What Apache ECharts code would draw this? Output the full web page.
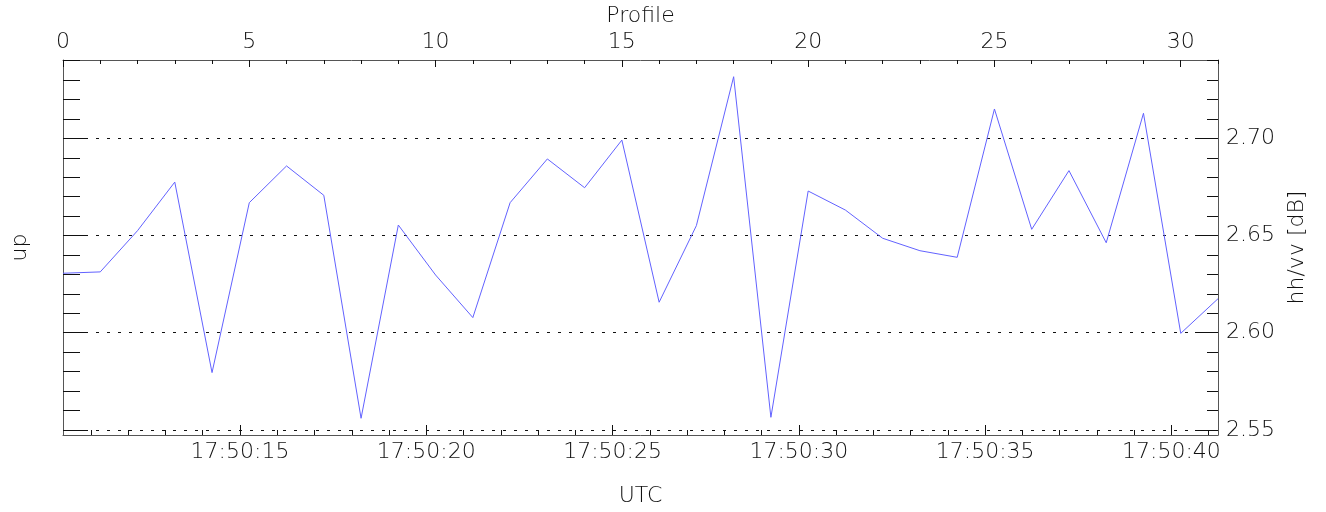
<!DOCTYPE html>
<html>
<head>
<meta charset="utf-8">
<script src="https://cdn.jsdelivr.net/npm/echarts@6/dist/echarts.min.js"></script>
<style>
html,body{margin:0;padding:0;background:#fff;}
#chart{width:1326px;height:512px;}
</style>
</head>
<body>
<div id="chart"></div>
<script>
// ---- data ----
const profiles = [0,1,2,3,4,5,6,7,8,9,10,11,12,13,14,15,16,17,18,19,20,21,22,23,24,25,26,27,28,29,30,31];
const hhvv = [2.6306,2.6313,2.6525,2.6775,2.5795,2.6669,2.6858,2.6707,2.5560,2.6554,
              2.6297,2.6078,2.6669,2.6894,2.6746,2.6991,2.6157,2.6551,2.7317,2.5565,
              2.6729,2.6631,2.6486,2.6422,2.6388,2.7151,2.6532,2.6834,2.6463,2.7129,
              2.5997,2.6175];
// tick labels / tick positions
const profileTicks = [0,5,10,15,20,25,30];
const profileMinorTicks = [1,2,3,4,6,7,8,9,11,12,13,14,16,17,18,19,21,22,23,24,26,27,28,29,31];
const utcTickSeconds = [15,20,25,30,35,40];           // seconds after 17:50:00
const utcTickLabels = ['17:50:15','17:50:20','17:50:25','17:50:30','17:50:35','17:50:40'];
const utcMinorSeconds = [11,12,13,14,16,17,18,19,21,22,23,24,26,27,28,29,31,32,33,34,36,37,38,39,41];
const utcStartSec = 10.25;   // time of profile 0 (17:50:10.25)
const dbTicks = [2.55,2.60,2.65,2.70];
const dbMinorTicks = [2.56,2.57,2.58,2.59,2.61,2.62,2.63,2.64,2.66,2.67,2.68,2.69,2.71,2.72,2.73,2.74];
const dbMin = 2.5474, dbMax = 2.7403;
const profileMin = 0, profileMax = 31;

// ---- chart ----
const FONT = 'DejaVu Sans';
const txt = {color:'#111', fontFamily: FONT, fontSize: 22, fontWeight: 200};
const lineCol = '#555';
const tickCol = '#111';

const chart = echarts.init(document.getElementById('chart'), null, {renderer:'canvas'});
const utcMax = utcStartSec + (profileMax - profileMin);

function baseX(extra){ return Object.assign({
  type:'value', gridIndex:0, splitLine:{show:false},
  axisLine:{show:false, onZero:false}, axisTick:{show:false}, axisLabel:{show:false}
}, extra); }
function baseY(extra){ return Object.assign({
  type:'value', gridIndex:0, min:dbMin, max:dbMax, splitLine:{show:false},
  axisLine:{show:false, onZero:false}, axisTick:{show:false}, axisLabel:{show:false}
}, extra); }
const shownLine = {show:true, onZero:false, lineStyle:{color:lineCol, width:1}};

chart.setOption({
  animation:false,
  backgroundColor:'#fff',
  grid:{left:63, right:108, top:60, bottom:77, containLabel:false},
  xAxis:[
    baseX({position:'top', min:profileMin, max:profileMax,
      name:'Profile', nameLocation:'middle', nameGap:33, nameMoveOverlap:false, nameTextStyle:txt,
      axisLine:shownLine,
      axisTick:{show:true, inside:true, length:7, customValues:profileTicks, lineStyle:{color:tickCol}},
      axisLabel:{show:true, customValues:profileTicks, margin:7, ...txt}
    }),
    baseX({position:'top', min:profileMin, max:profileMax,
      axisTick:{show:true, inside:true, length:4, customValues:profileMinorTicks, lineStyle:{color:tickCol}}
    }),
    baseX({position:'bottom', min:utcStartSec, max:utcMax,
      name:'UTC', nameLocation:'middle', nameGap:50, nameTextStyle:txt,
      axisLine:shownLine,
      axisTick:{show:true, inside:true, length:10, customValues:utcTickSeconds, lineStyle:{color:tickCol}},
      axisLabel:{show:true, customValues:utcTickSeconds, margin:6, ...txt,
        formatter:function(v){ const i = utcTickSeconds.indexOf(Math.round(v)); return i>=0 ? utcTickLabels[i] : ''; }}
    }),
    baseX({position:'bottom', min:utcStartSec, max:utcMax,
      axisTick:{show:true, inside:true, length:5, customValues:utcMinorSeconds, lineStyle:{color:tickCol}}
    })
  ],
  yAxis:[
    baseY({position:'right',
      name:'hh/vv [dB]', nameLocation:'middle', nameGap:68, nameTextStyle:txt,
      axisLine:shownLine,
      axisTick:{show:true, inside:true, length:23, customValues:dbTicks, lineStyle:{color:tickCol}},
      axisLabel:{show:true, customValues:dbTicks, margin:8, ...txt,
        formatter:function(v){ return v.toFixed(2); }},
      splitLine:{show:true, lineStyle:{color:'#111', width:1, type:[3,8]}}
    }),
    baseY({position:'right',
      axisTick:{show:true, inside:true, length:11, customValues:dbMinorTicks, lineStyle:{color:tickCol}}
    }),
    baseY({position:'left',
      name:'up', nameLocation:'middle', nameGap:32, nameTextStyle:txt,
      axisLine:shownLine,
      axisTick:{show:true, inside:true, length:24, customValues:dbTicks, lineStyle:{color:tickCol}}
    }),
    baseY({position:'left',
      axisTick:{show:true, inside:true, length:17, customValues:dbMinorTicks, lineStyle:{color:tickCol}}
    })
  ],
  series:[{
    type:'line', xAxisIndex:0, yAxisIndex:0,
    data: profiles.map(function(p,i){ return [p, hhvv[i]]; }),
    symbol:'none', clip:true,
    lineStyle:{color:'#6262ff', width:1}
  }]
});
</script>
</body>
</html>
